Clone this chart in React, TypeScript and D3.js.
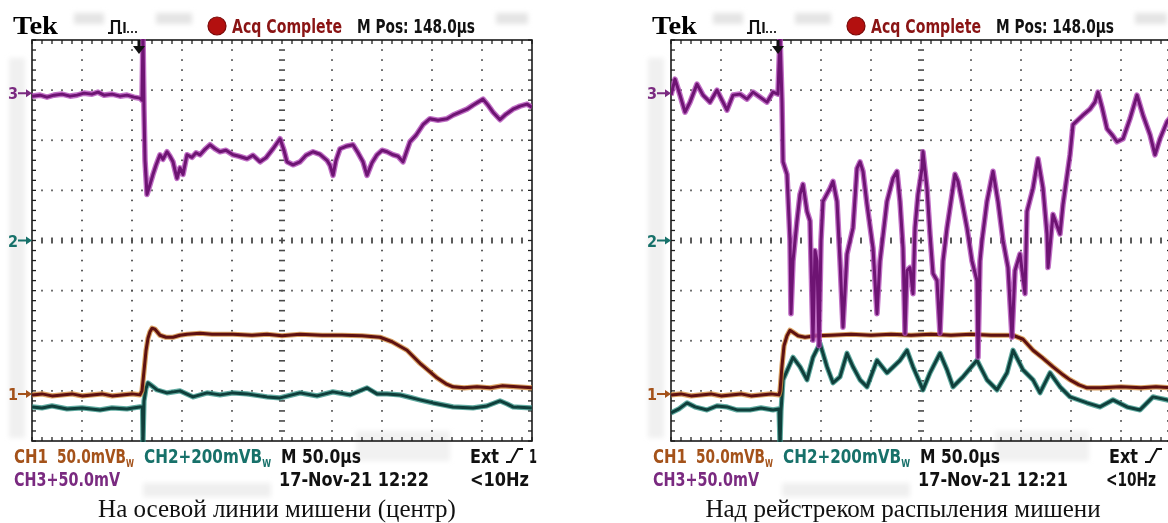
import React from "react"
import * as d3 from "d3"

// time in µs (M 50.0µs/div, 10 div), level in screen divisions from the centre line
type Pt = [number, number]

const leftCh3: Pt[] = [
	[0, 2.88], [8, 2.9], [15, 2.86], [22, 2.9], [30, 2.92], [38, 2.88], [45, 2.9], [52, 2.94], [60, 2.92], [66, 2.96],
	[72, 2.9], [80, 2.92], [88, 2.88], [95, 2.9], [102, 2.86], [108, 2.84], [110, 2.8], [111, 4.1], [112, 2.6], [113, 1.6],
	[115, 0.92], [117, 1.05], [121, 1.32], [124, 1.5], [128, 1.71], [131, 1.62], [135, 1.77], [138, 1.68], [141, 1.57],
	[143, 1.4], [145, 1.24], [148, 1.45], [151, 1.32], [155, 1.71], [160, 1.66], [164, 1.75], [168, 1.71], [173, 1.82],
	[178, 1.91], [183, 1.83], [188, 1.77], [194, 1.8], [201, 1.71], [207, 1.68], [215, 1.63], [221, 1.7], [228, 1.57],
	[234, 1.65], [241, 1.83], [248, 2.03], [252, 1.8], [255, 1.57], [261, 1.51], [268, 1.57], [274, 1.7], [281, 1.77],
	[288, 1.72], [295, 1.6], [298, 1.5], [301, 1.3], [304, 1.6], [308, 1.83], [314, 1.88], [321, 1.91], [326, 1.75],
	[331, 1.57], [335, 1.3], [340, 1.55], [345, 1.71], [350, 1.8], [355, 1.77], [361, 1.71], [366, 1.68], [371, 1.57],
	[375, 1.8], [378, 1.97], [384, 2.1], [391, 2.31], [398, 2.43], [406, 2.4], [415, 2.43], [421, 2.5], [428, 2.56],
	[435, 2.62], [441, 2.7], [446, 2.76], [451, 2.82], [456, 2.7], [461, 2.56], [468, 2.41], [474, 2.52], [481, 2.62],
	[488, 2.68], [495, 2.72], [500, 2.66],
]

const leftCh1: Pt[] = [
	[0, -3.08], [10, -3.06], [20, -3.1], [30, -3.08], [40, -3.06], [50, -3.1], [60, -3.08], [70, -3.06], [80, -3.1],
	[90, -3.08], [100, -3.06], [108, -3.08], [110, -3.0], [112, -2.6], [114, -2.2], [116, -1.95], [118, -1.82], [120, -1.75],
	[123, -1.77], [128, -1.89], [134, -1.93], [141, -1.93], [148, -1.89], [155, -1.87], [168, -1.85], [180, -1.87],
	[201, -1.87], [220, -1.89], [235, -1.87], [250, -1.9], [268, -1.87], [290, -1.89], [310, -1.89], [330, -1.9],
	[348, -1.93], [360, -2.02], [375, -2.19], [388, -2.45], [398, -2.62], [405, -2.74], [414, -2.86], [421, -2.92],
	[432, -2.94], [445, -2.92], [458, -2.94], [470, -2.9], [485, -2.92], [500, -2.94],
]

const leftCh2: Pt[] = [
	[0, -3.32], [10, -3.34], [20, -3.3], [35, -3.36], [50, -3.34], [68, -3.38], [80, -3.34], [95, -3.36], [101, -3.34],
	[108, -3.32], [110.5, -3.32], [111, -4.1], [112, -3.2], [114, -2.95], [116, -2.84], [120, -2.9], [125, -2.98],
	[135, -3.04], [148, -3.0], [161, -3.12], [175, -3.04], [188, -3.08], [201, -3.04], [215, -3.06], [235, -3.12],
	[248, -3.14], [268, -3.04], [285, -3.1], [301, -3.02], [318, -3.08], [335, -2.94], [345, -3.06], [355, -3.06],
	[368, -3.08], [380, -3.14], [388, -3.18], [401, -3.24], [421, -3.32], [441, -3.34], [455, -3.3], [468, -3.2],
	[475, -3.26], [481, -3.32], [500, -3.34],
]

const rightCh3: Pt[] = [
	[0, 2.9], [4, 3.22], [9, 2.9], [14, 2.56], [19, 2.76], [26, 3.12], [32, 2.9], [39, 2.76], [46, 3.0], [52, 2.76],
	[56, 2.6], [62, 2.9], [69, 2.92], [76, 2.82], [82, 2.96], [89, 2.86], [96, 2.76], [102, 2.96], [107, 2.92],
	[109, 4.1], [111, 2.76], [112, 1.57], [116, 1.32], [119, 0.0], [120, -1.46], [122, -0.41], [126, 0.39], [129, 0.92],
	[132, 1.12], [136, 0.58], [139, 0.39], [142, -1.99], [144, -0.2], [146, -0.41], [148, -2.1], [150, 0.0], [152, 0.78],
	[159, 1.04], [162, 1.18], [166, 0.78], [169, -0.41], [172, -1.73], [176, -0.27], [182, 0.25], [186, 1.44],
	[189, 1.57], [192, 1.38], [196, 0.72], [202, -0.15], [206, -1.46], [209, -0.41], [216, 0.78], [222, 1.24],
	[226, 1.38], [229, 0.78], [232, -0.15], [234, -1.85], [236, -0.6], [239, -0.54], [242, -1.06], [244, 0.25],
	[247, 0.92], [251, 1.44], [252, 1.77], [256, 1.04], [259, 0.13], [262, -0.66], [266, -0.8], [269, -1.85],
	[272, -0.41], [276, 0.25], [281, 0.92], [284, 1.32], [287, 1.18], [291, 0.78], [296, 0.25], [301, -0.41],
	[306, -0.8], [307, -2.33], [309, -0.41], [311, 0.0], [316, 0.78], [322, 1.38], [327, 0.78], [332, 0.0],
	[337, -0.54], [341, -1.93], [344, -0.6], [349, -0.27], [354, -1.06], [356, 0.58], [362, 1.04], [367, 1.63],
	[372, 1.04], [376, 0.13], [377, -0.54], [382, 0.52], [389, 0.13], [392, 0.72], [399, 1.71], [402, 2.31],
	[412, 2.5], [419, 2.62], [424, 2.76], [427, 2.96], [431, 2.66], [436, 2.23], [441, 2.11], [446, 1.97], [452, 2.03],
	[459, 2.43], [466, 2.9], [472, 2.5], [479, 2.11], [484, 1.71], [489, 2.03], [496, 2.37], [500, 2.47],
]

const rightCh1: Pt[] = [
	[0, -3.08], [10, -3.06], [20, -3.1], [30, -3.08], [40, -3.06], [50, -3.1], [60, -3.08], [70, -3.06], [80, -3.1],
	[90, -3.08], [100, -3.06], [108, -3.08], [109, -3.0], [111, -2.5], [113, -2.1], [116, -1.9], [119, -1.79],
	[122, -1.83], [127, -1.9], [134, -1.93], [145, -1.9], [160, -1.89], [180, -1.87], [200, -1.89], [220, -1.87],
	[240, -1.89], [260, -1.87], [280, -1.89], [300, -1.87], [320, -1.89], [342, -1.89], [352, -1.97], [362, -2.19],
	[372, -2.35], [382, -2.52], [392, -2.68], [399, -2.78], [408, -2.88], [416, -2.94], [430, -2.94], [450, -2.92],
	[470, -2.94], [485, -2.92], [500, -2.94],
]

const rightCh2: Pt[] = [
	[0, -3.44], [8, -3.36], [16, -3.24], [24, -3.32], [36, -3.38], [46, -3.3], [56, -3.32], [66, -3.38], [79, -3.38],
	[90, -3.34], [102, -3.38], [108, -3.36], [109, -4.1], [110, -3.4], [112, -2.78], [122, -2.33], [129, -2.52],
	[136, -2.78], [142, -2.33], [149, -2.05], [156, -2.52], [162, -2.84], [169, -2.72], [176, -2.25], [182, -2.52],
	[189, -2.78], [196, -2.92], [206, -2.39], [216, -2.64], [229, -2.39], [236, -2.19], [242, -2.52], [252, -2.98],
	[259, -2.64], [269, -2.25], [276, -2.58], [282, -2.92], [292, -2.72], [306, -2.39], [316, -2.78], [326, -2.98],
	[336, -2.64], [342, -2.19], [352, -2.58], [362, -2.78], [369, -3.04], [379, -2.64], [389, -2.92], [399, -3.12],
	[416, -3.24], [429, -3.32], [442, -3.18], [456, -3.32], [469, -3.38], [482, -3.12], [496, -3.18], [500, -3.2],
]

// ground markers of the channels (div)
const groundLevels = [
	{ ch: "3", level: 2.94 },
	{ ch: "2", level: 0 },
	{ ch: "1", level: -3.06 },
]

const stamps = ["17-Nov-21 12:22", "17-Nov-21 12:21"]
const captions = ["На осевой линии мишени (центр)", "Над рейстреком распыления мишени"]

const X0 = 32
const X1 = 532
const Y0 = 40
const Y1 = 441
const FONT = "'Liberation Sans Narrow', 'DejaVu Sans Condensed', 'Liberation Sans', sans-serif"

const colors = {
	"1": { halo: "#d08a3c", core: "#5e1111", text: "#a4521a", w: 5.2 },
	"2": { halo: "#3a968a", core: "#0f3f3b", text: "#17716a", w: 5.2 },
	"3": { halo: "#b24cb8", core: "#6e1473", text: "#7a2a80", w: 5.6 },
}

const Scope = ({ dx, ch1, ch2, ch3, stamp, id, cut }) => {
	const x = d3.scaleLinear().domain([0, 500]).range([X0, X1])
	const y = d3.scaleLinear().domain([-4, 4]).range([Y1, Y0])
	const line = d3
		.line<Pt>()
		.x(d => x(d[0]))
		.y(d => y(d[1]))

	const minorX = d3.range(0, 501, 10)
	const minorY = d3.range(-40, 41, 2).map(v => v / 10)
	const majorX = d3.range(50, 500, 50)
	const majorY = d3.range(-3, 4, 1)

	const traces = [
		{ key: "2", data: ch2 },
		{ key: "1", data: ch1 },
		{ key: "3", data: ch3 },
	]

	return (
		<g transform={`translate(${dx},0)`}>
			<defs>
				<clipPath id={`clip-${id}`}>
					<rect x={X0} y={Y0 - 1} width={X1 - X0} height={Y1 - Y0 + 2} />
				</clipPath>
			</defs>

			{/* blurry grey smudges of the photo */}
			<g filter="url(#smudge)" fill="#e4e4e4">
				<rect x={74} y={13} width={30} height={11} />
				<rect x={156} y={13} width={36} height={11} />
				<rect x={496} y={13} width={32} height={11} />
				<rect x={9} y={58} width={16} height={380} opacity={0.55} />
				<rect x={356} y={431} width={94} height={30} opacity={0.5} />
				<rect x={143} y={483} width={128} height={14} opacity={0.6} />
			</g>

			{/* header */}
			<text x={13} y={34} fontFamily="'Liberation Serif', serif" fontWeight="bold" fontSize={25} textLength={45} lengthAdjust="spacingAndGlyphs">
				Tek
			</text>
			<path d="M108,33 H112 V21 H119 V33 H122 M124.5,22 V33" fill="none" stroke="#111" strokeWidth={2.2} />
			<g fill="#333">
				<rect x={127} y={31} width={2} height={2} />
				<rect x={131} y={31} width={2} height={2} />
				<rect x={135} y={31} width={2} height={2} />
			</g>
			<circle cx={217} cy={26} r={9} fill="#b3100f" stroke="#7a0808" strokeWidth={1.2} />
			<g fontFamily={FONT} fontSize={19} fontWeight="bold">
				<text x={232} y={33} fill="#8a1414" textLength={110} lengthAdjust="spacingAndGlyphs">
					Acq Complete
				</text>
				<text x={357} y={33} fill="#111" textLength={118} lengthAdjust="spacingAndGlyphs">
					M Pos: 148.0µs
				</text>
			</g>

			{/* grid */}
			<g fill="#4a4a4a">
				{majorX
					.filter(v => v !== 250)
					.map(v =>
						minorY.slice(1, -1).map(l => (
							<rect key={`v${v}${l}`} x={x(v) - 0.9} y={y(l) - 0.8} width={1.8} height={1.6} />
						)),
					)}
				{majorY
					.filter(l => l !== 0)
					.map(l =>
						minorX.slice(1, -1).map(v => (
							<rect key={`h${l}${v}`} x={x(v) - 0.8} y={y(l) - 0.9} width={1.6} height={1.8} />
						)),
					)}
				{minorY.slice(1, -1).map(l => (
					<rect key={`cv${l}`} x={x(250) - 3} y={y(l) - 0.8} width={6} height={1.6} />
				))}
				{minorX.slice(1, -1).map(v => (
					<rect key={`ch${v}`} x={x(v) - 0.9} y={y(0) - 3} width={1.8} height={6} />
				))}
			</g>
			<g stroke="#222" strokeWidth={1.3}>
				{minorX.map(v => (
					<g key={`bt${v}`}>
						<line x1={x(v)} x2={x(v)} y1={Y0} y2={Y0 + 4} />
						<line x1={x(v)} x2={x(v)} y1={Y1 - 4} y2={Y1} />
					</g>
				))}
				{minorY.map(l => (
					<g key={`bl${l}`}>
						<line x1={X0} x2={X0 + 4} y1={y(l)} y2={y(l)} />
						<line x1={X1 - 4} x2={X1} y1={y(l)} y2={y(l)} />
					</g>
				))}
			</g>
			<rect x={X0} y={Y0} width={X1 - X0} height={Y1 - Y0} fill="none" stroke="#1a1a1a" strokeWidth={1.6} />

			{/* traces */}
			<g clipPath={`url(#clip-${id})`} fill="none" strokeLinejoin="round">
				{traces.map(t => (
					<g key={t.key}>
						<path d={line(t.data)} stroke={colors[t.key].halo} strokeWidth={colors[t.key].w} opacity={0.8} />
						<path d={line(t.data)} stroke={colors[t.key].core} strokeWidth={3} />
					</g>
				))}
			</g>

			{/* trigger position arrow */}
			<path d={`M${x(107)},${Y0} V${Y0 + 7}`} stroke="#111" strokeWidth={3} />
			<path d={`M${x(107) - 6},${Y0 + 6} H${x(107) + 6} L${x(107)},${Y0 + 14} Z`} fill="#111" />

			{/* channel ground markers */}
			{groundLevels.map(g => (
				<g key={g.ch} fill={colors[g.ch].text}>
					<text x={8} y={y(g.level) + 6} fontFamily={FONT} fontWeight="bold" fontSize={16}>
						{g.ch}
					</text>
					<path d={`M18,${y(g.level) - 1} H26 V${y(g.level) - 4} L32,${y(g.level)} L26,${y(g.level) + 4} V${y(g.level) + 1} H18 Z`} />
				</g>
			))}

			{/* bottom readout */}
			<g fontFamily={FONT} fontSize={19} fontWeight="bold">
				<text x={14} y={463} fill={colors["1"].text} textLength={34} lengthAdjust="spacingAndGlyphs">CH1</text>
				<text x={57} y={463} fill={colors["1"].text} textLength={77} lengthAdjust="spacingAndGlyphs">
					50.0mVB<tspan fontSize={10} dy={4}>W</tspan>
				</text>
				<text x={144} y={463} fill={colors["2"].text} textLength={127} lengthAdjust="spacingAndGlyphs">
					CH2+200mVB<tspan fontSize={10} dy={4}>W</tspan>
				</text>
				<text x={281} y={463} fill="#111" textLength={80} lengthAdjust="spacingAndGlyphs">M 50.0µs</text>
				<text x={470} y={463} fill="#111" textLength={29} lengthAdjust="spacingAndGlyphs">Ext</text>
				<path d="M506,462 H511 L518,449 H523" fill="none" stroke="#111" strokeWidth={2} />
				{!cut && (
					<text x={529} y={463} fill="#111" textLength={8} lengthAdjust="spacingAndGlyphs">1</text>
				)}
				<text x={14} y={486} fill={colors["3"].text} textLength={106} lengthAdjust="spacingAndGlyphs">CH3+50.0mV</text>
				<text x={279} y={486} fill="#111" textLength={150} lengthAdjust="spacingAndGlyphs">{stamp}</text>
				<text x={cut ? 467 : 470} y={486} fill="#111" textLength={cut ? 50 : 59} lengthAdjust="spacingAndGlyphs">&lt;10Hz</text>
			</g>
		</g>
	)
}

const App = () => {
	return (
		<>
			<style>{"body{margin:0;background:#fff}"}</style>
			<svg width={1168} height={523} viewBox="0 0 1168 523" style={{ display: "block", background: "#fff" }}>
				<defs>
					<filter id="smudge" x="-50%" y="-50%" width="200%" height="200%">
						<feGaussianBlur stdDeviation={2.5} />
					</filter>
				</defs>
				<Scope dx={0} ch1={leftCh1} ch2={leftCh2} ch3={leftCh3} stamp={stamps[0]} id="a" cut={false} />
				<Scope dx={639} ch1={rightCh1} ch2={rightCh2} ch3={rightCh3} stamp={stamps[1]} id="b" cut={true} />
				<g fontFamily="'Liberation Serif', 'Times New Roman', serif" fontSize={25} textAnchor="middle" fill="#111">
					<text x={277} y={517}>{captions[0]}</text>
					<text x={903} y={517}>{captions[1]}</text>
				</g>
			</svg>
		</>
	)
}

export default App
